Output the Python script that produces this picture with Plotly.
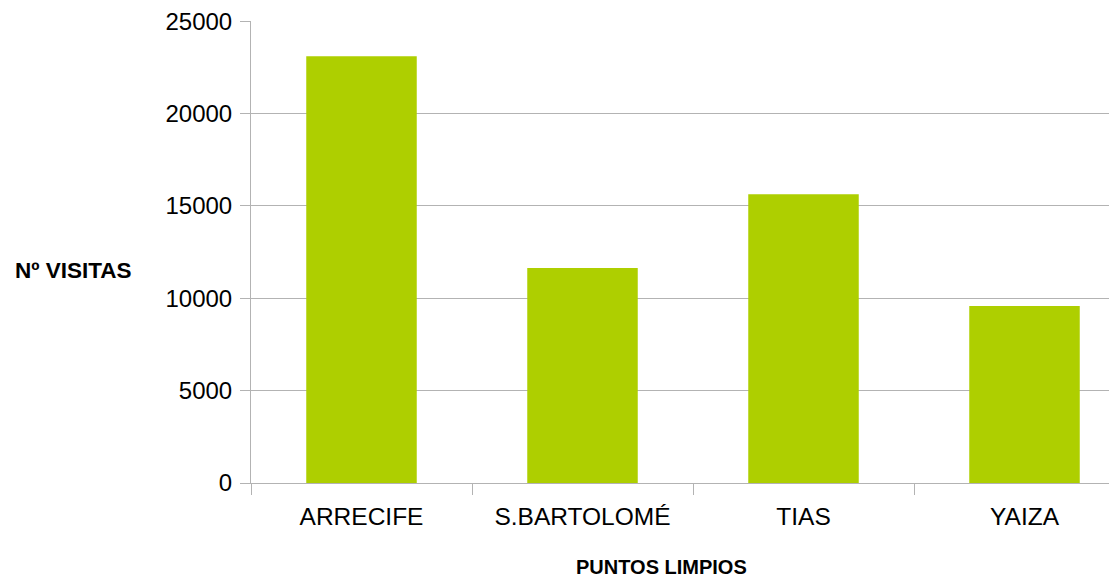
import plotly.graph_objects as go

categories = ["ARRECIFE", "S.BARTOLOMÉ", "TIAS", "YAIZA"]
visitas = [23110, 11640, 15640, 9580]
y_ticks = [0, 5000, 10000, 15000, 20000, 25000]

# page body has an 8px margin; figure coordinates are offset accordingly
OFF = 8
W, H = 1117, 579 - OFF
L, R, T = 251 - OFF, 0, 21 - OFF
B = H - (483 - OFF)
plot_w = W - L - R
plot_h = H - T - B
cat_px = 221

def px_x(px):
    return (px - OFF - L) / plot_w

def px_y(py):
    return ((483 - OFF) - (py - OFF)) / plot_h

fig = go.Figure(go.Bar(
    x=categories, y=visitas, width=0.5,
    marker=dict(color="#aecf00", line=dict(width=0)),
))

grid = "#b3b3b3"
font = "Liberation Sans, Arial, sans-serif"

fig.update_layout(
    width=W, height=H,
    margin=dict(l=L, r=R, t=T, b=B, pad=0),
    plot_bgcolor="white", paper_bgcolor="white",
    showlegend=False,
    font=dict(family=font, color="black"),
    xaxis=dict(
        type="category",
        range=[-0.5, -0.5 + plot_w / cat_px],
        showline=True, linecolor=grid, linewidth=1,
        ticks="outside", tickson="boundaries", ticklen=11, tickcolor=grid, tickwidth=1,
        tickfont=dict(size=24.5, family=font, color="black"),
        showgrid=False, zeroline=False,
        ticklabelstandoff=12,
    ),
    yaxis=dict(
        range=[0, 25000 * 1.0006],
        tickvals=y_ticks, ticktext=[str(v) for v in y_ticks],
        showline=True, linecolor=grid, linewidth=1,
        ticks="outside", ticklen=10, tickcolor=grid, tickwidth=1,
        tickfont=dict(size=24, family=font, color="black"),
        showgrid=True, gridcolor=grid, gridwidth=1,
        zeroline=False,
        ticklabelstandoff=3,
        ticklabeloverflow="allow",
    ),
    annotations=[
        dict(text="<b>Nº VISITAS</b>", xref="paper", yref="paper",
             x=px_x(13), y=px_y(270),
             xanchor="left", yanchor="middle", showarrow=False,
             font=dict(size=22.5, family=font, color="black")),
        dict(text="<b>PUNTOS LIMPIOS</b>", xref="paper", yref="paper",
             x=px_x(661.5), y=px_y(567),
             xanchor="center", yanchor="middle", showarrow=False,
             font=dict(size=20, family=font, color="black")),
    ],
)

fig.write_html("out.html")
